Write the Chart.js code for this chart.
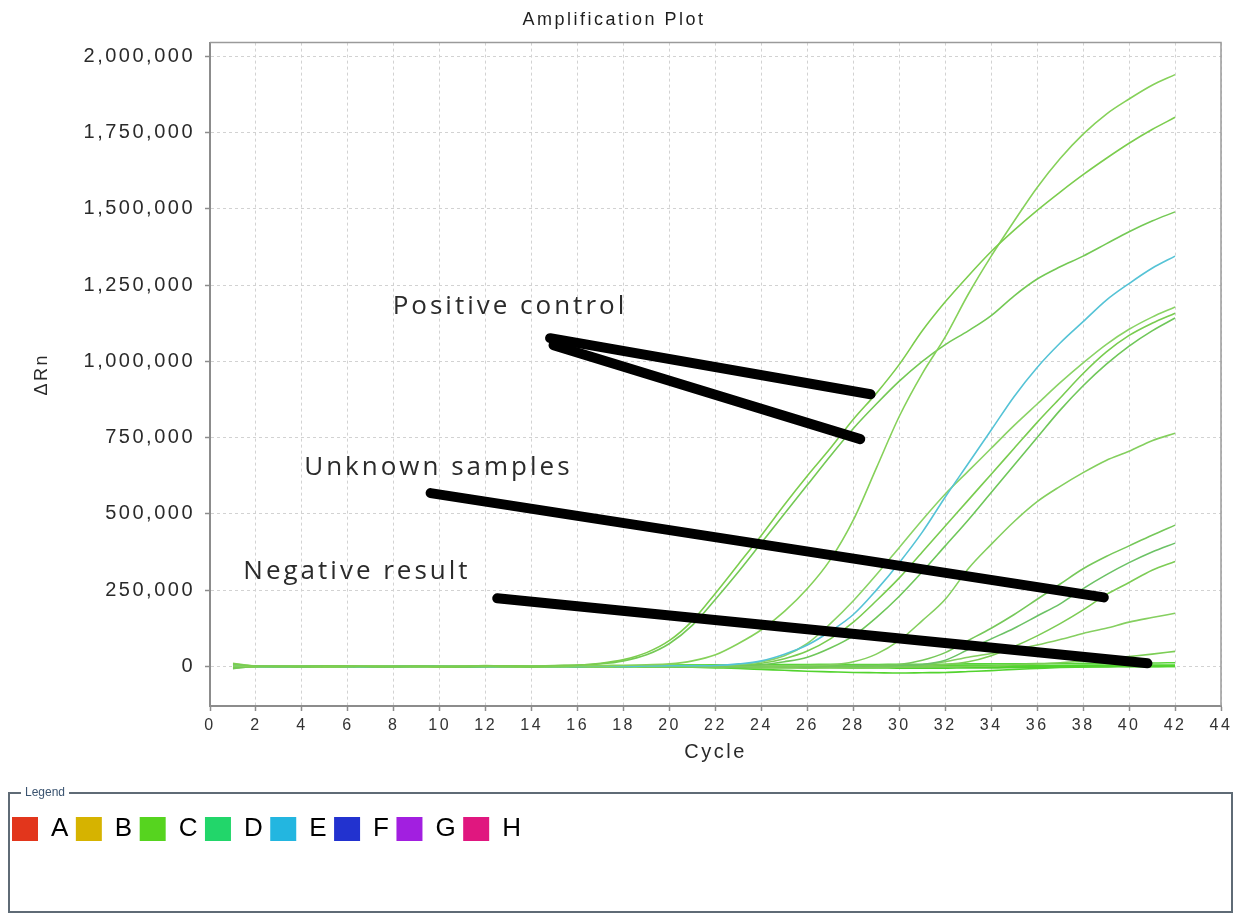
<!DOCTYPE html>
<html>
<head>
<meta charset="utf-8">
<title>Amplification Plot</title>
<script src="https://cdn.jsdelivr.net/npm/chart.js@4.4.1/dist/chart.umd.min.js"></script>
<style>
 html, body { margin: 0; padding: 0; background: #ffffff; }
</style>
</head>
<body>
<canvas id="ampChart" width="1238" height="914"></canvas>
<script>
// cycles 1..42
var cycles = [1, 2, 3, 4, 5, 6, 7, 8, 9, 10, 11, 12, 13, 14, 15, 16, 17, 18, 19, 20, 21,
 22, 23, 24, 25, 26, 27, 28, 29, 30, 31, 32, 33, 34, 35, 36, 37, 38, 39, 40, 41, 42];

// delta Rn per cycle, in thousands
var wellA = [8, 1, -1, 0, 2, 1, -1, 0, 1, -2, 0, 2, 1, 0, 2, 4,
 10, 22, 45, 85, 150, 240, 335, 430, 530, 625, 715, 810, 895, 990, 1100, 1195, 1280,
 1360, 1430, 1495, 1555, 1612, 1665, 1715, 1760, 1800];
var wellB = [2, -1, 0, 1, -1, 0, 1, 0, -1, 0, 1, 0, -1, 1, 0, 1, 2, 3, 5,
 8, 18, 38, 75, 120, 180, 255, 350, 480, 650, 820, 960, 1080, 1220, 1345, 1460, 1570,
 1665, 1745, 1810, 1860, 1905, 1940];
var wellC = [-6, 0, 1, -1, 0, 2, 0, -1, 0, 1, -1, 0, 2, 1, 3, 4,
 8, 18, 38, 75, 135, 220, 310, 405, 500, 595, 690, 780, 860, 935, 1000, 1055, 1100,
 1150, 1215, 1270, 1310, 1345, 1385, 1425, 1460, 1490];
var wellE = [4, 0, -1, 0, 1, 0, -1, 0, 0, 1, 0, -1, 0, 1, 0, 0, 1, 0, 1, 2, 2,
 3, 8, 18, 40, 70, 115, 170, 250, 340, 440, 555, 665, 775, 885, 980, 1060, 1130, 1200,
 1255, 1305, 1345];
var wellD1 = [10, 1, 0, -1, 0, 1, 0, 0, -1, 0, 1, 0, 0, 1, 0, 1, 0, 1, 1, 2, 2, 3,
 6, 15, 35, 75, 140, 215, 300, 390, 480, 565, 640, 715, 790, 860, 930, 995, 1055, 1105,
 1145, 1178];
var wellD2 = [-4, 0, 1, 0, 0, -1, 0, 1, 0, 0, -1, 0, 1, 0, 0, 1, 0, 0, 1, 1, 2, 2, 4,
 10, 25, 50, 90, 145, 215, 290, 375, 460, 545, 630, 715, 800, 880, 960, 1030, 1085,
 1125, 1158];
var wellD3 = [6, 0, 0, -1, 0, 1, 0, -1, 0, 1, 0, 0, -1, 0, 1, 0, 0, 1, 0, 1, 1, 2, 3,
 5, 15, 30, 60, 100, 160, 230, 310, 395, 480, 570, 660, 750, 840, 920, 990, 1050,
 1100, 1142];
var wellG1 = [0, -1, 0, 1, 0, 0, -1, 0, 1, 0, 0, 3, 0, 0, 1, 0, 0, -1, 0, 0, 1, 0, 1,
 2, 2, 3, 5, 15, 40, 85, 150, 220, 320, 400, 475, 540, 590, 635, 675, 705, 740, 764];
var wellG2 = [-8, 0, -1, 0, 0, 1, 0, 0, -1, 0, 1, 2, 0, -1, 0, 1, 0, 0, 1, 0, -1, 0, 0,
 1, 0, 1, 1, 2, 3, 6, 20, 45, 85, 125, 170, 220, 270, 320, 360, 395, 430, 463];
var wellG3 = [-1, 0, 0, 1, 0, -1, 0, 1, 0, 0, -1, 0, 1, 0, 0, -1, 0, 1, 0, 0, 1, 0, -1,
 0, 1, 0, 1, 1, 2, 3, 6, 20, 55, 90, 125, 165, 205, 255, 300, 340, 375, 404];
var wellG4 = [0, 1, 0, 0, -1, 0, 1, 0, 0, -1, 0, 0, 1, 0, -1, 0, 0, 1, 0, -1, 0, 0, 1,
 0, -1, 0, 0, 1, 1, 2, 3, 6, 15, 35, 65, 100, 140, 185, 235, 275, 315, 344];
var wellG5 = [0, 0, 1, 0, -1, 0, 0, 1, 0, 0, -1, 0, 0, 1, 0, 0, -1, 0, 0, 1, 0, -1, 0,
 -2, -2, -1, 0, 1, 2, 3, 5, 15, 30, 42, 55, 70, 88, 108, 125, 145, 160, 174];
var wellG6 = [-1, 0, 1, 0, 0, -1, 0, 0, 1, 0, 0, -1, 0, 1, 0, 0, -1, 0, 0, 0, -2, -3,
 -4, -5, -5, -6, -5, -5, -4, -3, -2, -1, 0, 1, 5, 8, 12, 18, 24, 32, 40, 49];
var wellN1 = [2, 0, -1, 0, 1, 0, 0, -1, 0, 1, 0, 0, -1, 0, 0, 1, 0, -1, 0,
 -2, -3, -5, -7, -10, -13, -16, -18, -20, -21, -22, -21, -20, -17, -14, -10, -7, -4,
 -2, 0, 1, 2, 2];
var wellN2 = [-2, 1, 0, 0, -1, 1, 0, 0, 1, 0, -1, 0, 0, 1, 0, 0, 1, 1, 2, 2, 3, 3, 4,
 4, 5, 5, 6, 6, 6, 7, 7, 7, 8, 8, 8, 9, 9, 10, 10, 11, 11, 12];
var wellN3 = [0, 0, 1, 0, 0, -1, 0, 0, 0, 1, 0, 0, -1, 0, 0, 0, 1, 0, 0, -1, -1, -2,
 -2, -3, -3, -4, -4, -5, -5, -6, -6, -6, -5, -5, -4, -3, -3, -2, -2, -1, -1, 0];
var wellN4 = [5, 1, 0, 1, 0, 0, 1, 0, 0, 1, 0, 1, 0, 1, 1, 2, 2, 3, 3, 4, 4, 5, 5, 5,
 6, 6, 6, 5, 5, 4, 4, 3, 3, 2, 2, 2, 1, 1, 1, 0, 0, 0];
var wellN5 = [-3, 0, 0, -1, 0, 0, -1, 0, 0, 0, -1, 0, 0, -1, 0, -1, -1, -1, -2, -2, -3,
 -3, -3, -4, -4, -4, -3, -3, -3, -2, -2, -2, -1, -1, -1, 0, 0, 0, 1, 1, 1, 1];
var wellN6 = [1, 0, 1, 0, 0, 1, 0, 0, 1, 0, 0, 1, 0, 0, 1, 1, 1, 2, 2, 2, 3, 3, 3, 3,
 4, 4, 4, 4, 4, 4, 3, 3, 3, 3, 3, 3, 3, 4, 4, 4, 4, 4];

var wellCurves = [wellA, wellB, wellC, wellE, wellD1, wellD2, wellD3, wellG1, wellG2,
 wellG3, wellG4, wellG5, wellG6, wellN1, wellN2, wellN3, wellN4, wellN5, wellN6];
var curveColors = ["#7ccd4e", "#86d15a", "#74c955", "#55c3d6", "#8ad365", "#79cc50",
 "#6fc75a", "#84cf5e", "#76c85a", "#6cc266", "#7dcc55", "#85cf60", "#7cce55",
 "#52d32e", "#58d538", "#4fd02c", "#4ed62a", "#56d232", "#4bd428"];

var xTicks = [0, 2, 4, 6, 8, 10, 12, 14, 16, 18, 20, 22, 24, 26, 28, 30, 32, 34, 36, 38, 40, 42, 44];
var yTicks = [0, 250000, 500000, 750000, 1000000, 1250000, 1500000, 1750000, 2000000];

// hand drawn marker strokes (cycle, delta Rn)
var markCycleStart = [14.8, 14.95, 9.6, 12.5];
var markValueStart = [1076000, 1053000, 568000, 223000];
var markCycleEnd = [28.75, 28.3, 38.9, 40.8];
var markValueEnd = [892000, 745000, 226000, 10000];

var noteText = ["Positive control", "Unknown samples", "Negative result"];
var noteCycle = [7.95, 4.1, 1.45];
var noteValue = [1181000, 650000, 312000];

var legendRows = ["A", "B", "C", "D", "E", "F", "G", "H"];
var legendColors = ["#e2361c", "#d6b300", "#56d41f", "#22d66a", "#23b6e0", "#2232cf", "#a21fe0", "#e0177f"];

var datasets = [];

for (var m = 0; m < markCycleStart.length; m++) {
 datasets.push({
  label: "mark" + m,
  data: [{ x: markCycleStart[m], y: markValueStart[m] }, { x: markCycleEnd[m], y: markValueEnd[m] }],
  borderColor: "#000000",
  borderWidth: 10,
  borderCapStyle: "round",
  pointRadius: 0,
  order: 0,
 });
}

wellCurves.forEach(function (curve, i) {
 datasets.push({
  label: "well" + i,
  data: curve.map(function (v, j) {
   return { x: cycles[j], y: v * 1000 };
  }),
  borderColor: curveColors[i],
  borderWidth: 1.6,
  pointRadius: 0,
  cubicInterpolationMode: "monotone",
  order: 1,
 });
});

var spacingPlugin = {
 id: "spacing",
 beforeLayout: function (chart) {
  chart.ctx.letterSpacing = "2.5px";
 },
 beforeDraw: function (chart) {
  chart.ctx.letterSpacing = "2.5px";
 },
};

var notesPlugin = {
 id: "notes",
 afterDatasetsDraw: function (chart) {
  var ctx = chart.ctx;
  var xs = chart.scales.x;
  var ys = chart.scales.y;
  ctx.save();
  ctx.letterSpacing = "3px";
  ctx.font = '26px "Open Sans", sans-serif';
  ctx.fillStyle = "#2b2b2b";
  ctx.textAlign = "left";
  ctx.textBaseline = "middle";
  for (var i = 0; i < noteText.length; i++) {
   ctx.fillText(noteText[i], xs.getPixelForValue(noteCycle[i]), ys.getPixelForValue(noteValue[i]));
  }
  ctx.restore();
 },
};

var framePlugin = {
 id: "frames",
 afterDraw: function (chart) {
  var ctx = chart.ctx;
  var a = chart.chartArea;
  ctx.save();
  // plot frame, top and right
  ctx.strokeStyle = "#9a9a9a";
  ctx.lineWidth = 1.5;
  ctx.beginPath();
  ctx.moveTo(a.left, a.top);
  ctx.lineTo(a.right, a.top);
  ctx.lineTo(a.right, a.bottom);
  ctx.stroke();

  // legend group box
  var lg = chart.legend;
  var top = lg.top - 18;
  var left = 9;
  var right = chart.width - 6;
  var bottom = chart.height - 2;
  ctx.letterSpacing = "0px";
  ctx.font = "12px 'Liberation Sans', Arial, sans-serif";
  var capX = 25;
  var capW = ctx.measureText("Legend").width;
  ctx.strokeStyle = "#5f6b76";
  ctx.lineWidth = 2;
  ctx.beginPath();
  ctx.moveTo(capX - 4, top);
  ctx.lineTo(left, top);
  ctx.lineTo(left, bottom);
  ctx.lineTo(right, bottom);
  ctx.lineTo(right, top);
  ctx.lineTo(capX + capW + 4, top);
  ctx.stroke();
  ctx.fillStyle = "#3b5470";
  ctx.textBaseline = "middle";
  ctx.textAlign = "left";
  ctx.fillText("Legend", capX, top);
  ctx.restore();
 },
};

Chart.defaults.font.family = "'Liberation Sans', Arial, sans-serif";
Chart.defaults.color = "#2a2a2a";

new Chart(document.getElementById("ampChart"), {
 type: "line",
 data: { datasets: datasets },
 plugins: [spacingPlugin, notesPlugin, framePlugin],
 options: {
  responsive: false,
  animation: false,
  layout: { padding: { left: 7, right: 17, top: 0, bottom: 62 } },
  plugins: {
   title: {
    display: true,
    text: "Amplification Plot",
    color: "#1e1e1e",
    font: { size: 18, weight: "normal" },
    padding: { top: 9, bottom: 12 },
   },
   legend: {
    position: "bottom",
    align: "start",
    onClick: null,
    labels: {
     boxWidth: 26,
     boxHeight: 24,
     padding: 5,
     color: "#2a2a2a",
     font: { size: 26, family: "'Liberation Sans Narrow', 'Liberation Sans', Arial, sans-serif" },
     generateLabels: function () {
      return legendRows.map(function (r, i) {
       return { text: r, fillStyle: legendColors[i], strokeStyle: legendColors[i], lineWidth: 0, hidden: false };
      });
     },
    },
   },
   tooltip: { enabled: false },
  },
  scales: {
   x: {
    type: "linear",
    min: 0,
    max: 44,
    afterBuildTicks: function (scale) {
     scale.ticks = xTicks.map(function (v) { return { value: v }; });
    },
    afterFit: function (scale) {
     scale.height = 105;
    },
    ticks: { autoSkip: false, maxRotation: 0, padding: 5, color: "#333333", font: { size: 16 } },
    grid: {
     color: "#d2d2d2",
     tickColor: "#8c8c8c",
     tickLength: 5,
     tickWidth: 1.5,
    },
    border: { color: "#8c8c8c", width: 2, dash: [3, 3] },
    title: {
     display: true,
     text: "Cycle",
     color: "#2a2a2a",
     font: { size: 20 },
     padding: { top: 4, bottom: 47 },
    },
   },
   y: {
    type: "linear",
    min: -130000,
    max: 2045000,
    afterBuildTicks: function (scale) {
     scale.ticks = yTicks.map(function (v) { return { value: v }; });
    },
    afterFit: function (scale) {
     scale.width = 203;
    },
    ticks: {
     padding: 10,
     color: "#2a2a2a",
     font: { size: 20 },
     callback: function (v) {
      return v.toLocaleString("en-US");
     },
    },
    grid: {
     color: "#d2d2d2",
     tickColor: "#8c8c8c",
     tickLength: 5,
     tickWidth: 1.5,
    },
    border: { color: "#8c8c8c", width: 2, dash: [3, 3] },
    title: {
     display: true,
     text: "ΔRn",
     color: "#2a2a2a",
     font: { size: 18 },
     padding: { top: 24, bottom: 0 },
    },
   },
  },
 },
});
</script>
</body>
</html>
